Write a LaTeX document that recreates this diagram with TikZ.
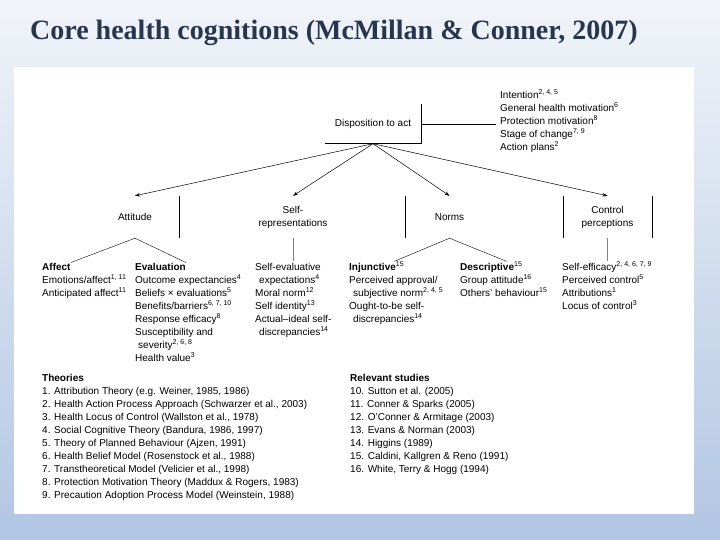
\documentclass[tikz,border=0pt]{standalone}
\usepackage{fontspec}
\setmainfont{Liberation Sans}
\newfontfamily\titlefont{Liberation Serif}
\usetikzlibrary{arrows.meta,positioning,calc}
\definecolor{titleblue}{HTML}{27354F}
\definecolor{bgtop}{HTML}{F1F4F9}
\definecolor{bgbottom}{HTML}{B1C6E3}
\tikzset{
  lbl/.style={font=\fontsize{10}{13}\selectfont},
  col/.style={lbl,anchor=north west,inner sep=0pt,align=left,yshift=9.1pt},
  subhead/.style={lbl,anchor=base west,inner sep=0pt,font=\fontsize{10}{13}\selectfont\bfseries},
  head/.style={lbl,minimum width=89pt,minimum height=42pt,inner sep=0pt,align=center},
  link/.style={-{Stealth[length=5pt,width=3.5pt]},line width=0.5pt},
  split/.style={line width=0.4pt}
}
\begin{document}
\begin{tikzpicture}[x=1pt,y=-1pt]
  \useasboundingbox (0,0) rectangle (720,540);
  \shade[top color=bgtop,bottom color=bgbottom] (0,0) rectangle (720,540);
  \fill[white] (14,67) rectangle (694,514);
  \node[anchor=base west,inner sep=0pt,text=titleblue,font=\titlefont\fontsize{28}{32}\selectfont\bfseries] (title) at (30,40) {Core health cognitions (McMillan \& Conner, 2007)};

  \node[lbl,minimum width=96pt,minimum height=39pt,inner sep=0pt] (disp) at (373,124) {Disposition to act};
  \draw[line width=0.6pt] (disp.north east) -- (disp.south east) -- (disp.south west);
  \node[col] (motives) at (500,98) {\strut Intention\textsuperscript{2, 4, 5}\\
    General health motivation\textsuperscript{6}\\
    Protection motivation\textsuperscript{8}\\
    Stage of change\textsuperscript{7, 9}\\
    Action plans\textsuperscript{2}};
  \draw[line width=0.6pt,shorten >=4pt] (disp.east) -- (disp.east -| motives.west);

  \node[head] (att) at (135,217) {Attitude};
  \node[head] (selfrep) at (293,217) {Self-\\representations};
  \node[head] (norms) at (449.5,217) {Norms};
  \node[head] (ctrl) at (607.5,217) {Control\\perceptions};
  \draw[link] (disp.south) -- (att.north);
  \draw[link] (disp.south) -- (selfrep.north);
  \draw[link] (disp.south) -- (norms.north);
  \draw[link] (disp.south) -- (ctrl.north);
  \draw[line width=0.6pt] (att.north east) -- (att.south east);
  \draw[line width=0.6pt] (norms.north west) -- (norms.south west);
  \draw[line width=0.6pt] (ctrl.north west) -- (ctrl.south west);
  \draw[line width=0.6pt] (ctrl.north east) -- (ctrl.south east);

  \node[subhead] (affect) at (42,270) {Affect};
  \node[col] (affectlist) at (42,283) {\strut Emotions/affect\textsuperscript{1, 11}\\
    Anticipated affect\textsuperscript{11}};
  \node[subhead] (evaluation) at (135,270) {Evaluation};
  \node[col] (evallist) at (135,283) {\strut Outcome expectancies\textsuperscript{4}\\
    Beliefs × evaluations\textsuperscript{5}\\
    Benefits/barriers\textsuperscript{6, 7, 10}\\
    Response efficacy\textsuperscript{8}\\
    Susceptibility and\\
    \hspace*{3pt}severity\textsuperscript{2, 6, 8}\\
    Health value\textsuperscript{3}};
  \draw[split] (att.south) -- (affect.north east);
  \draw[split] (att.south) -- (evaluation.north east);

  \node[col] (selflist) at (255,270) {\strut Self-evaluative\\
    \hspace*{4pt}expectations\textsuperscript{4}\\
    Moral norm\textsuperscript{12}\\
    Self identity\textsuperscript{13}\\
    Actual–ideal self-\\
    \hspace*{4pt}discrepancies\textsuperscript{14}};
  \draw[split,gray] (selfrep.south) -- (selfrep.south |- selflist.north);

  \node[subhead] (injunctive) at (349,270) {Injunctive\textsuperscript{\mdseries 15}};
  \node[col] (injlist) at (349,283) {\strut Perceived approval/\\
    \hspace*{4pt}subjective norm\textsuperscript{2, 4, 5}\\
    Ought-to-be self-\\
    \hspace*{4pt}discrepancies\textsuperscript{14}};
  \node[subhead] (descriptive) at (460,270) {Descriptive\textsuperscript{\mdseries 15}};
  \node[col] (desclist) at (460,283) {\strut Group attitude\textsuperscript{16}\\
    Others' behaviour\textsuperscript{15}};
  \draw[split] (norms.south) -- ($(injunctive.north east)+(-10,0)$);
  \draw[split] (norms.south) -- ($(descriptive.north east)+(-16,0)$);

  \node[col] (ctrllist) at (562,270) {\strut Self-efficacy\textsuperscript{2, 4, 6, 7, 9}\\
    Perceived control\textsuperscript{5}\\
    Attributions\textsuperscript{1}\\
    Locus of control\textsuperscript{3}};
  \draw[split,gray] (ctrl.south) -- (ctrl.south |- ctrllist.north);

  \node[subhead] (theories) at (42,381) {Theories};
  \node[col] (theorylist) at (42,394) {\strut 1. Attribution Theory (e.g. Weiner, 1985, 1986)\\
    2. Health Action Process Approach (Schwarzer et al., 2003)\\
    3. Health Locus of Control (Wallston et al., 1978)\\
    4. Social Cognitive Theory (Bandura, 1986, 1997)\\
    5. Theory of Planned Behaviour (Ajzen, 1991)\\
    6. Health Belief Model (Rosenstock et al., 1988)\\
    7. Transtheoretical Model (Velicier et al., 1998)\\
    8. Protection Motivation Theory (Maddux \& Rogers, 1983)\\
    9. Precaution Adoption Process Model (Weinstein, 1988)};
  \node[subhead] (studies) at (350,381) {Relevant studies};
  \node[col] (studylist) at (350,394) {\strut 10. Sutton et al. (2005)\\
    11. Conner \& Sparks (2005)\\
    12. O'Conner \& Armitage (2003)\\
    13. Evans \& Norman (2003)\\
    14. Higgins (1989)\\
    15. Caldini, Kallgren \& Reno (1991)\\
    16. White, Terry \& Hogg (1994)};
\end{tikzpicture}
\end{document}
